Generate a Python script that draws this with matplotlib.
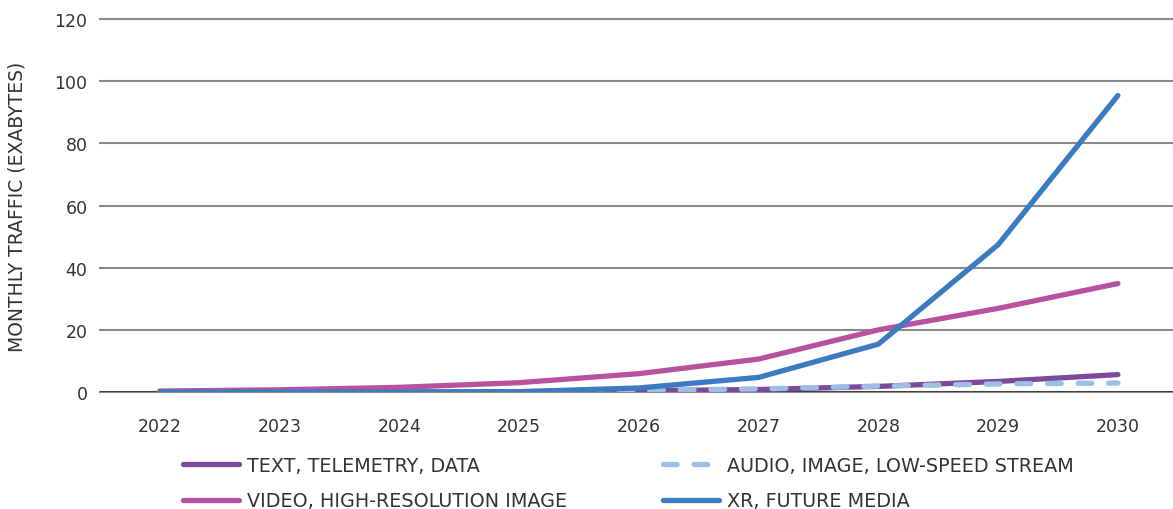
import matplotlib
matplotlib.use("Agg")
import matplotlib.pyplot as plt
from matplotlib.lines import Line2D

years = ["2022", "2023", "2024", "2025", "2026", "2027", "2028", "2029", "2030"]
text_data = [0.0, 0.0, 0.0, 0.1, 0.4, 0.8, 1.8, 3.4, 5.6]
audio_stream = [0.0, 0.0, 0.0, 0.1, 0.5, 1.0, 1.9, 2.6, 2.9]
video_image = [0.3, 0.7, 1.5, 3.0, 5.9, 10.6, 20.0, 26.9, 34.9]
xr_media = [0.0, 0.0, 0.0, 0.1, 1.3, 4.7, 15.4, 47.4, 95.4]
y_ticks = [0, 20, 40, 60, 80, 100, 120]

labels = ["TEXT, TELEMETRY, DATA", "AUDIO, IMAGE, LOW-SPEED STREAM",
          "VIDEO, HIGH-RESOLUTION IMAGE", "XR, FUTURE MEDIA"]
colors = ["#7B4A9E", "#9DBFE6", "#B8529E", "#3A7BC2"]

plt.rcParams['font.family'] = ['DejaVu Sans']
txt = "#333333"

fig = plt.figure(figsize=(11.73, 5.10), dpi=100)
ax = fig.add_axes([100/1173, 1 - 393/510, 1 - 100/1173, (393 - 20)/510])

x = list(range(len(years)))
lw = 3.8
dash = (2.6, 3.2)
l_text, = ax.plot(x, text_data, color=colors[0], lw=lw, solid_capstyle='round', zorder=3)
l_audio, = ax.plot(x, audio_stream, color=colors[1], lw=lw, dashes=dash,
                   dash_capstyle='round', zorder=4)
l_video, = ax.plot(x, video_image, color=colors[2], lw=lw, solid_capstyle='round', zorder=5)
l_xr, = ax.plot(x, xr_media, color=colors[3], lw=lw, solid_capstyle='round', zorder=6)

ax.set_xlim(-0.5, 8.46)
ax.set_ylim(0, 120)
ax.set_yticks(y_ticks)
ax.set_xticks(x)
ax.set_xticklabels(years)
for s in ax.spines.values():
    s.set_visible(False)
ax.grid(axis='y', color='#8a8a8a', lw=1.5, zorder=1)
for gl in ax.get_ygridlines():
    gl.set_clip_on(False)
ax.axhline(0, color='#333333', lw=1.2, zorder=2)
ax.tick_params(axis='both', length=0, labelsize=12.5, colors=txt)
ax.tick_params(axis='x', pad=18)
ax.tick_params(axis='y', pad=9)
ax.set_ylabel("MONTHLY TRAFFIC (EXABYTES)", fontsize=13.5, color=txt, labelpad=20)

handles = [
    Line2D([], [], color=colors[0], lw=lw, solid_capstyle='round'),
    Line2D([], [], color=colors[2], lw=lw, solid_capstyle='round'),
    Line2D([], [], color=colors[1], lw=lw, dashes=dash, dash_capstyle='round'),
    Line2D([], [], color=colors[3], lw=lw, solid_capstyle='round'),
]
leg_labels = [labels[0], labels[2], labels[1], labels[3]]
leg = fig.legend(handles, leg_labels, ncol=2, loc='upper left',
                 bbox_to_anchor=(183/1173, 1 - 457/510), frameon=False,
                 fontsize=13.8, handlelength=2.9, handletextpad=0.45,
                 columnspacing=5.0, labelspacing=0.85, borderaxespad=0, borderpad=0)
for t in leg.get_texts():
    t.set_color(txt)

fig.savefig("out.png", dpi=100)
